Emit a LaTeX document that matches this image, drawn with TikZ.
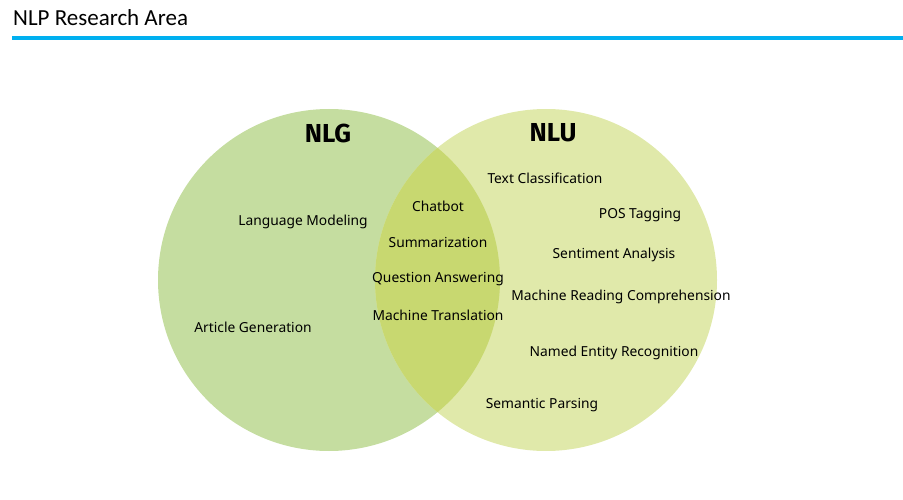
\documentclass[tikz,border=0pt]{standalone}
\usepackage{fontspec}
\setmainfont{Carlito}
\newfontfamily\labelfont{Noto Sans}
\newfontfamily\headfont{Fira Sans}
\definecolor{nlgfill}{RGB}{197,221,160}
\definecolor{nlufill}{RGB}{224,233,170}
\definecolor{bothfill}{RGB}{200,216,112}
\definecolor{rulecol}{RGB}{0,176,240}

\begin{document}
\begin{tikzpicture}[x=1pt,y=-1pt,
    area/.style={font=\labelfont\fontsize{13.8}{16}\selectfont, inner sep=0pt},
    head/.style={font=\headfont\bfseries\fontsize{26}{30}\selectfont, inner sep=0pt}]
  \useasboundingbox (0,0) rectangle (903,500);
  % title and rule
  \node[anchor=west, inner sep=0pt, font=\fontsize{23}{26}\selectfont] (title) at (13,18) {NLP Research Area};
  \fill[rulecol] (12,36) rectangle (903,40);
  % circles
  \fill[nlgfill] (329,280) circle (171);
  \fill[nlufill] (546,280) circle (171);
  \begin{scope}
    \clip (329,280) circle (171);
    \fill[bothfill] (546,280) circle (171);
  \end{scope}
  \node[head] (NLG) at (328,133) {NLG};
  \node[head] (NLU) at (553,133) {NLU};
  % NLG only
  \node[area] (LM) at (303,222) {Language Modeling};
  \node[area] (AG) at (253,327) {Article Generation};
  % both
  \node[area] (CB) at (438,206) {Chatbot};
  \node[area] (SU) at (438,242) {Summarization};
  \node[area] (QA) at (438,279) {Question Answering};
  \node[area] (MT) at (438,315) {Machine Translation};
  % NLU only
  \node[area] (TC)  at (545,178) {Text Classification};
  \node[area] (POS) at (640,215) {POS Tagging};
  \node[area] (SA)  at (614,255) {Sentiment Analysis};
  \node[area] (MRC) at (621,297) {Machine Reading Comprehension};
  \node[area] (NER) at (614,353) {Named Entity Recognition};
  \node[area] (SP)  at (542,405) {Semantic Parsing};
\end{tikzpicture}
\end{document}
